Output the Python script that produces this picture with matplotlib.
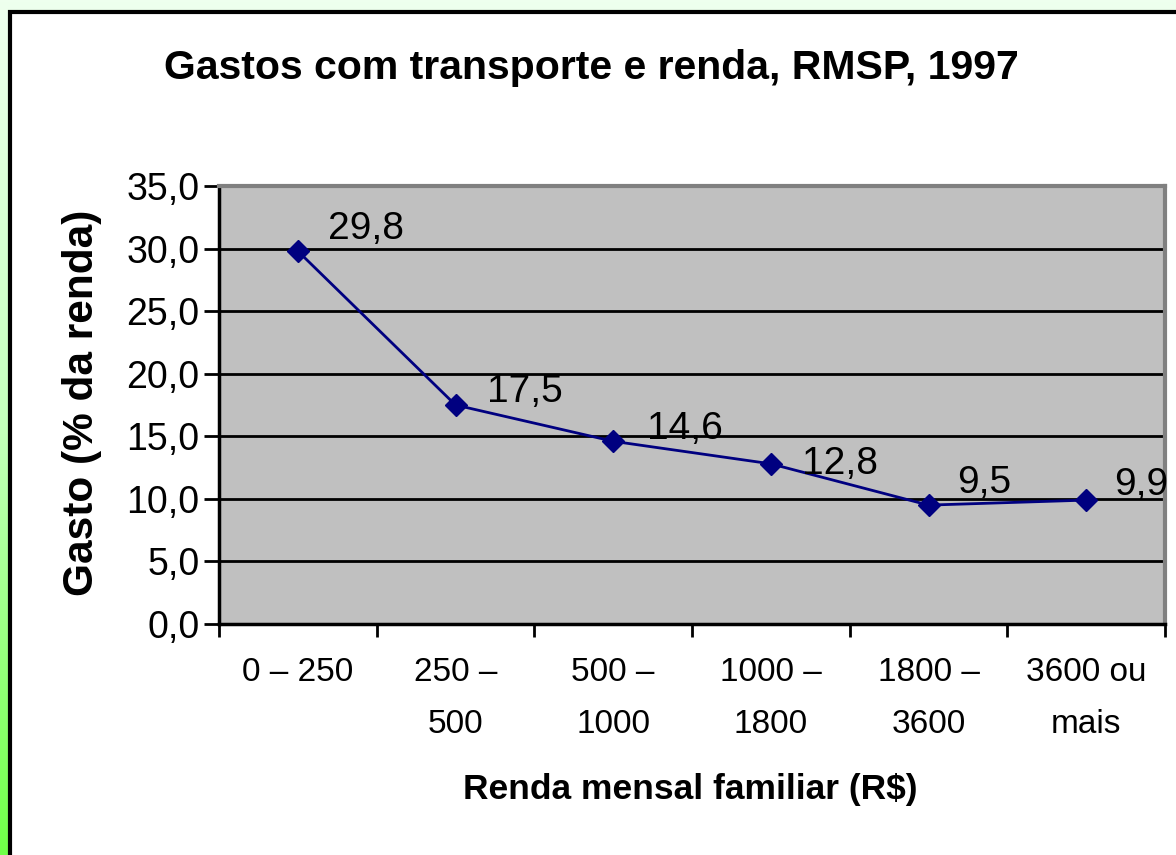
import matplotlib
matplotlib.use("Agg")
import matplotlib.pyplot as plt
import numpy as np
from matplotlib.patches import Rectangle
from matplotlib.colors import LinearSegmentedColormap

categories = ["0 – 250", "250 –\n500", "500 –\n1000", "1000 –\n1800", "1800 –\n3600", "3600 ou\nmais"]
values = [29.8, 17.5, 14.6, 12.8, 9.5, 9.9]
labels = ["29,8", "17,5", "14,6", "12,8", "9,5", "9,9"]
yticks = [0, 5, 10, 15, 20, 25, 30, 35]
ytick_labels = ["0,0", "5,0", "10,0", "15,0", "20,0", "25,0", "30,0", "35,0"]

# label placement (pixel offsets from each marker, layout only)
label_offsets_px = [(30, 22), (31, 13), (34, 12), (31, 0), (29, 22), (28, 15)]

plt.rcParams['font.family'] = ['Liberation Sans', 'DejaVu Sans']

W, H = 1176, 855
fig = plt.figure(figsize=(W / 100, H / 100), dpi=100)

# background gradient
bg = fig.add_axes([0, 0, 1, 1], zorder=-10)
bg.set_axis_off()
cmap = LinearSegmentedColormap.from_list("g", ["#eeffee", "#c4ffbc", "#70ff48"])
grad = np.linspace(0, 1, 256).reshape(-1, 1)
bg.imshow(grad, aspect="auto", cmap=cmap, extent=[0, 1, 0, 1], origin="upper")
bg.set_xlim(0, 1)
bg.set_ylim(0, 1)
bg.add_patch(Rectangle((10 / W, -0.05), 1.1, 1 - 11.5 / H + 0.05, facecolor="white",
                       edgecolor="black", linewidth=3, transform=bg.transAxes))

ax = fig.add_axes([219 / W, 1 - 624 / H, (1165 - 219) / W, (624 - 186) / H])
ax.set_facecolor("#c0c0c0")
x = np.arange(len(values))
ax.set_xlim(-0.5, len(values) - 0.5)
ax.set_ylim(0, 35)

for yv in yticks[1:-1]:
    ax.axhline(yv, color="black", linewidth=2, zorder=1)

ax.plot(x, values, color="#000080", linewidth=2, marker="D", markersize=11,
        markerfacecolor="#000080", markeredgecolor="#000080", zorder=3, clip_on=False)

for xi, v, lab, (dx, dy) in zip(x, values, labels, label_offsets_px):
    ax.annotate(lab, (xi, v), xytext=(dx * 0.72, dy * 0.72), textcoords="offset points",
                fontsize=28, color="black", ha="left", va="center", zorder=4,
                annotation_clip=False)

ax.spines["left"].set_linewidth(2.5)
ax.spines["bottom"].set_linewidth(2.5)
ax.spines["top"].set_color("#808080")
ax.spines["top"].set_linewidth(3)
ax.spines["right"].set_color("#808080")
ax.spines["right"].set_linewidth(3)

ax.set_yticks(yticks)
ax.set_yticklabels(ytick_labels, fontsize=27)
ax.tick_params(axis="y", length=11, width=2, direction="out", pad=3)

ax.set_xticks(np.arange(-0.5, len(values), 1.0))
ax.set_xticklabels([])
ax.tick_params(axis="x", length=9, width=2, direction="out")
for xi, cat in zip(x, categories):
    ax.text(xi, -2.6, cat, ha="center", va="top", fontsize=24, linespacing=1.9,
            transform=ax.transData)

fig.text(591 / W, 1 - 68 / H, "Gastos com transporte e renda, RMSP, 1997",
         ha="center", va="center", fontsize=29.5, fontweight="bold")
fig.text(690 / W, 1 - 790 / H, "Renda mensal familiar (R$)",
         ha="center", va="center", fontsize=25.5, fontweight="bold")
fig.text(82 / W, 1 - 403 / H, "Gasto (% da renda)", rotation=90,
         ha="center", va="center", fontsize=30.5, fontweight="bold")

fig.savefig("out.png", dpi=100)
